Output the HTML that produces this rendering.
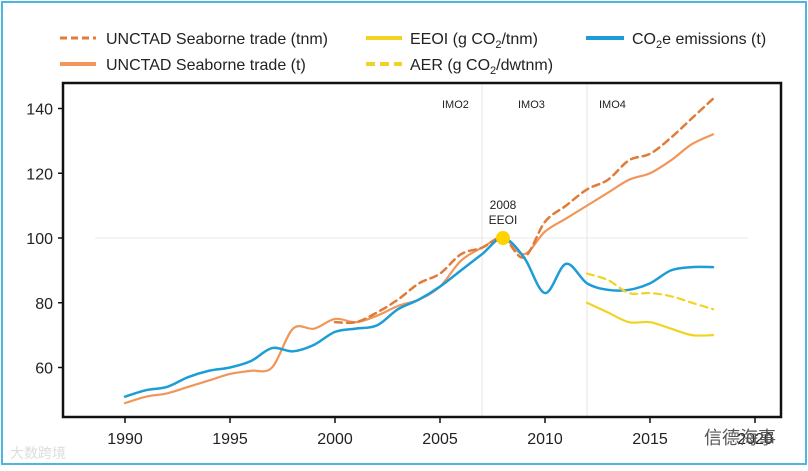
<!DOCTYPE html>
<html><head><meta charset="utf-8"><style>
html,body{margin:0;padding:0;background:#fff;}
body{width:808px;height:466px;overflow:hidden;font-family:"Liberation Sans","Noto Sans CJK SC",sans-serif;}
</style></head><body>
<svg id="chart" width="808" height="466" xmlns="http://www.w3.org/2000/svg" font-family="Liberation Sans, Noto Sans CJK SC, sans-serif">
<rect x="2" y="2" width="804" height="462" fill="#fff" stroke="#4bb6e0" stroke-width="2"/>
<g font-size="16" fill="#222">
 <g><line x1="60" y1="38" x2="96" y2="38" stroke="#e07b39" stroke-width="3" stroke-dasharray="7,4"/><text x="106" y="44">UNCTAD Seaborne trade (tnm)</text></g>
 <g><line x1="60" y1="64" x2="96" y2="64" stroke="#f0965a" stroke-width="4"/><text x="106" y="70">UNCTAD Seaborne trade (t)</text></g>
 <g><line x1="366" y1="38" x2="402" y2="38" stroke="#f2d320" stroke-width="4"/><text x="410" y="44">EEOI (g CO<tspan font-size="11" dy="4">2</tspan><tspan dy="-4">/tnm)</tspan></text></g>
 <g><line x1="366" y1="64" x2="402" y2="64" stroke="#f2d320" stroke-width="4" stroke-dasharray="9,5"/><text x="410" y="70">AER (g CO<tspan font-size="11" dy="4">2</tspan><tspan dy="-4">/dwtnm)</tspan></text></g>
 <g><line x1="586" y1="38" x2="624" y2="38" stroke="#1c9dd6" stroke-width="4"/><text x="632" y="44">CO<tspan font-size="11" dy="4">2</tspan><tspan dy="-4">e emissions (t)</tspan></text></g>
</g>
<g id="plot"></g>
</svg>
<script>
const years=[1990,1991,1992,1993,1994,1995,1996,1997,1998,1999,2000,2001,2002,2003,2004,2005,2006,2007,2008,2009,2010,2011,2012,2013,2014,2015,2016,2017,2018];
const co2e=[51,53,54,57,59,60,62,66,65,67,71,72,73,78,81,85,90,95,100,94,83,92,86,84,84,86,90,91,91];
const tradeT=[49,51,52,54,56,58,59,60,72,72,75,74,76,79,81,85,93,97,100,95,102,106,110,114,118,120,124,129,132];
const tnmYears=[2000,2001,2002,2003,2004,2005,2006,2007,2008,2009,2010,2011,2012,2013,2014,2015,2016,2017,2018];
const tradeTnm=[74,74,77,81,86,89,95,97,100,94,105,110,115,118,124,126,131,137,143];
const lateYears=[2012,2013,2014,2015,2016,2017,2018];
const eeoi=[80,77,74,74,72,70,70];
const aer=[89,87,83,83,82,80,78];
const yTicks=[60,80,100,120,140];
const xTicks=[1990,1995,2000,2005,2010,2015,2020];
const phases=[{y:2007,l:"IMO2"},{y:2012,l:"IMO3"},{y:2016,l:"IMO4"}];

const NS="http://www.w3.org/2000/svg";
const X=y=>125+(y-1990)*21;
const Y=v=>238-(v-100)*3.2375;
const g=document.getElementById('plot');
function mk(t,a,p){const e=document.createElementNS(NS,t);for(const k in a)e.setAttribute(k,a[k]);(p||g).appendChild(e);return e;}
function smooth(xs,vs){const p=xs.map((x,i)=>[X(x),Y(vs[i])]);let d=`M${p[0][0]},${p[0][1]}`;
for(let i=0;i<p.length-1;i++){const p0=p[i-1]||p[i],p1=p[i],p2=p[i+1],p3=p[i+2]||p[i+1];
d+=` C${p1[0]+(p2[0]-p0[0])/6},${p1[1]+(p2[1]-p0[1])/6} ${p2[0]-(p3[0]-p1[0])/6},${p2[1]-(p3[1]-p1[1])/6} ${p2[0]},${p2[1]}`;}return d;}

// phase lines
const pl=[2007,2012];
pl.forEach(y=>{const l=mk('line',{x1:X(y),x2:X(y),y1:84,y2:416,stroke:'#e6e6e6','stroke-width':1});

});
phases.forEach((p,i)=>{const t=mk('text',{x:[X(2007)-40,X(2007)+36,X(2012)+12][i],y:108,'font-size':11,fill:'#222'});t.textContent=p.l;

});
const ref=mk('line',{x1:95,x2:748,y1:Y(100),y2:Y(100),stroke:'#e8e8e8','stroke-width':1});



function series(xs,vs,col,w,dash,name){const a={d:smooth(xs,vs),fill:'none',stroke:col,'stroke-width':w,'stroke-linecap':'round'};if(dash)a['stroke-dasharray']=dash;const e=mk('path',a);

}
series(years,tradeT,'#f0965a',2.2,null,'series-trade-t');
series(tnmYears,tradeTnm,'#e07b39',2.5,'7,5','series-trade-tnm');
series(years,co2e,'#1c9dd6',2.5,null,'series-co2e');
series(lateYears,eeoi,'#f2d320',2.2,null,'series-eeoi');
series(lateYears,aer,'#f2d320',2.2,'7,5','series-aer');
const dot=mk('circle',{cx:X(2008),cy:Y(100),r:7,fill:'#ffd200'});


['2008','EEOI'].forEach((s,i)=>{const t=mk('text',{x:X(2008),y:209+i*15,'font-size':12,'text-anchor':'middle',fill:'#222'});t.textContent=s;

});

// frame
const fr=mk('rect',{x:63,y:83,width:718,height:334,fill:'none',stroke:'#111','stroke-width':2.5});


yTicks.forEach(v=>{mk('line',{x1:58,x2:63,y1:Y(v),y2:Y(v),stroke:'#111','stroke-width':1.5});
const t=mk('text',{x:53,y:Y(v)+6,'font-size':16,'text-anchor':'end',fill:'#222'});t.textContent=v;

});
xTicks.forEach(v=>{mk('line',{x1:X(v),x2:X(v),y1:417,y2:423,stroke:'#111','stroke-width':1.5});
const t=mk('text',{x:X(v),y:444,'font-size':16,'text-anchor':'middle',fill:'#222'});t.textContent=v;

});
const w1=mk('text',{x:10,y:458,'font-size':14,fill:'#ddd'});w1.textContent='大数跨境';


const w2=mk('text',{x:704,y:444,'font-size':18,fill:'#555'});w2.textContent='信德海事';


</script>
</body></html>
